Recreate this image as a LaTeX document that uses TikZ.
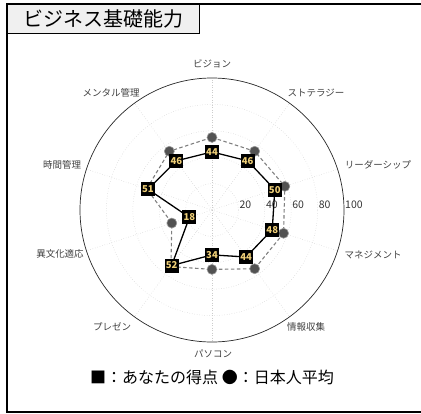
\documentclass[tikz,border=0pt]{standalone}
\usepackage{fontspec}
\setmainfont{Noto Sans CJK JP}
\definecolor{gold}{HTML}{F0D078}
\begin{document}
\begin{tikzpicture}[x=1pt,y=1pt,
  titlebox/.style={draw=black, line width=1.3pt, fill=black!6, minimum width=192pt, minimum height=29pt, inner sep=0pt, font=\fontsize{20}{22}\selectfont},
  gridc/.style={draw=black!20, dotted, line width=0.5pt},
  outerc/.style={draw=black!85, line width=0.7pt},
  sq/.style={fill=black, minimum size=14pt, inner sep=0pt, text=gold, font=\fontsize{9.5}{10}\selectfont\bfseries},
  avg/.style={circle, fill=black!68, draw=black!40, line width=0.6pt, minimum size=10pt, inner sep=0pt},
  avgline/.style={draw=black!50, dashed, dash pattern=on 3.5pt off 2.5pt, line width=1.1pt},
  scoreline/.style={draw=black, line width=1.3pt},
  axlab/.style={text=black!75, font=\fontsize{9.5}{11}\selectfont},
  ticklab/.style={text=black!80, font=\fontsize{10.5}{12}\selectfont, anchor=west, inner sep=0pt},
  legendlab/.style={font=\fontsize{16}{18}\selectfont}
]
\useasboundingbox (0,0) rectangle (421,-413);
% outer frame (left, top, bottom)
\draw[line width=1.3pt] (421,-4) -- (7,-4) -- (7,-412) -- (421,-412);
\node[titlebox, anchor=north west] (title) at (7,-4) {ビジネス基礎能力};
% polar grid
\coordinate (O) at (212,-210);
\foreach \r in {20,40,60,80} \draw[gridc] (O) circle ({\r*1.32});
\foreach \k in {0,...,9} \draw[gridc] (O) -- ++({90-36*\k}:132);
\draw[outerc] (O) circle (132);
% tick labels
\foreach \v in {20,40,60,80,100} \path (O) ++({\v*1.32+1},5) node[ticklab] (t\v) {\v};
% axis labels
\node[axlab] (a0) at (212,-64) {ビジョン};
\node[axlab] (a1) at (316,-93) {ストテラジー};
\node[axlab] (a2) at (378,-165) {リーダーシップ};
\node[axlab] (a3) at (373,-255) {マネジメント};
\node[axlab] (a4) at (306,-327) {情報収集};
\node[axlab] (a5) at (213,-354) {パソコン};
\node[axlab] (a6) at (112,-327) {プレゼン};
\node[axlab] (a7) at (60,-254) {異文化適応};
\node[axlab] (a8) at (62,-165) {時間管理};
\node[axlab] (a9) at (111,-93) {メンタル管理};
% data coordinates
\foreach \k/\s/\m in {0/44/55,1/46/55,2/50/58,3/48/57,4/44/55,5/34/45,6/52/53,7/18/32,8/51/52,9/46/55} {
  \path (O) ++({90-36*\k}:{\s*1.32}) coordinate (s\k);
  \path (O) ++({90-36*\k}:{\m*1.32}) coordinate (m\k);
}
% average (dashed)
\draw[avgline] (m0) -- (m1) -- (m2) -- (m3) -- (m4) -- (m5) -- (m6) -- (m7) -- (m8) -- (m9) -- cycle;
\foreach \k in {0,...,9} \node[avg] (c\k) at (m\k) {};
% scores (solid)
\draw[scoreline] (s0) -- (s1) -- (s2) -- (s3) -- (s4) -- (s5) -- (s6) -- (s7) -- (s8) -- (s9) -- cycle;
\foreach \k/\s in {0/44,1/46,2/50,3/48,4/44,5/34,6/52,7/18,8/51,9/46} \node[sq] (q\k) at (s\k) {\s};
% legend
\node[legendlab] (legend) at (212,-377) {■：あなたの得点 ●：日本人平均};
\end{tikzpicture}
\end{document}
